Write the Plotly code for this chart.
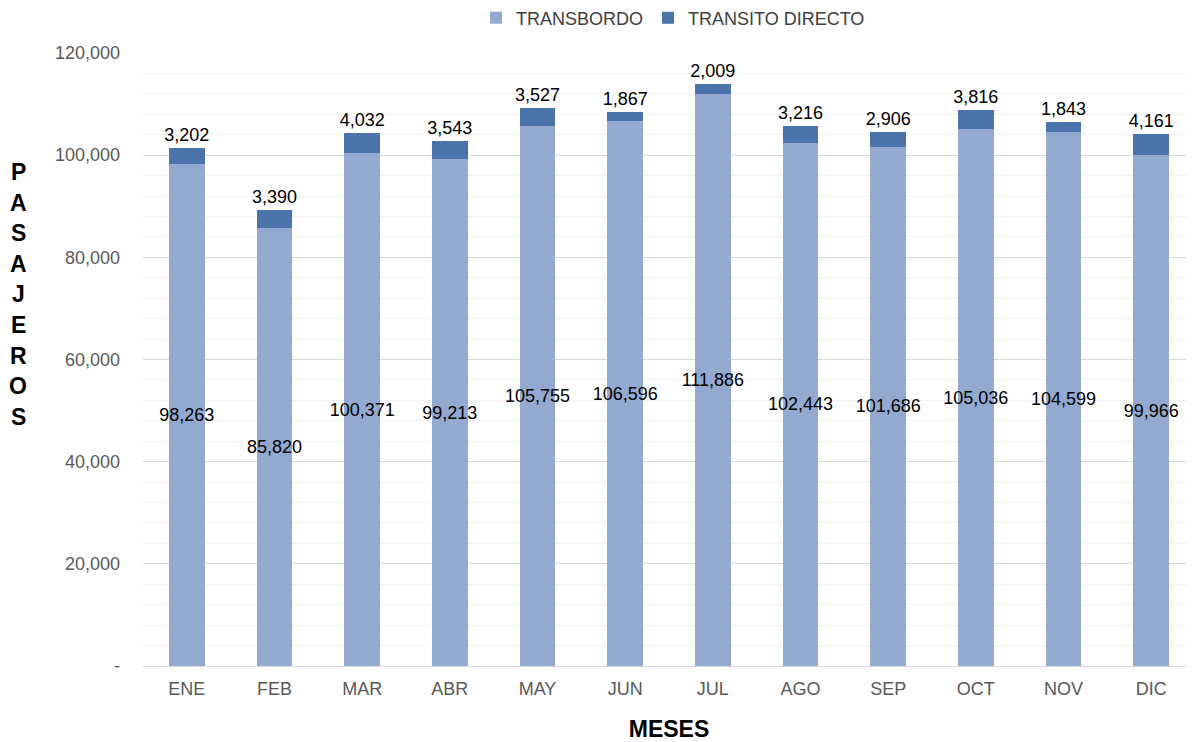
import plotly.graph_objects as go

months = ["ENE", "FEB", "MAR", "ABR", "MAY", "JUN", "JUL", "AGO", "SEP", "OCT", "NOV", "DIC"]
transbordo = [98263, 85820, 100371, 99213, 105755, 106596, 111886, 102443, 101686, 105036, 104599, 99966]
transito_directo = [3202, 3390, 4032, 3543, 3527, 1867, 2009, 3216, 2906, 3816, 1843, 4161]
y_tickvals = [0, 20000, 40000, 60000, 80000, 100000, 120000]
y_ticktext = ["-", "20,000", "40,000", "60,000", "80,000", "100,000", "120,000"]
y_title = "PASAJEROS"
x_title = "MESES"

FONT = "Liberation Sans, Arial, sans-serif"
OFF = 8  # page body margin
W, H = 1195 - OFF, 742 - OFF
L, R, T, B = 143 - OFF, 0, 53 - OFF, 76
plot_h = H - T - B
plot_w = W - L - R

fig = go.Figure()
fig.add_trace(go.Bar(
    x=months, y=transbordo, name="TRANSBORDO",
    marker=dict(color="#93A9D0", line=dict(width=0)),
    text=[f"{v:,}" for v in transbordo], textposition="inside",
    insidetextanchor="middle", textangle=0, constraintext="none",
    textfont=dict(family=FONT, size=18, color="#000000"),
))
fig.add_trace(go.Bar(
    x=months, y=transito_directo, name="TRANSITO DIRECTO",
    marker=dict(color="#4A74AB", line=dict(width=0)),
    text=[f"{v:,}" for v in transito_directo], textposition="outside",
    textangle=0, constraintext="none", cliponaxis=False,
    textfont=dict(family=FONT, size=18, color="#000000"),
))

fig.update_layout(
    barmode="stack", bargap=0.59,
    width=W, height=H,
    margin=dict(l=L, r=R, t=T, b=B, autoexpand=False),
    plot_bgcolor="white", paper_bgcolor="white",
    font=dict(family=FONT, size=18, color="#595959"),
    legend=dict(orientation="h", x=(673 - OFF) / W, xref="container", xanchor="center",
                y=1 - (18 - OFF) / H, yref="container", yanchor="middle",
                font=dict(family=FONT, size=18, color="#404040"),
                itemwidth=30, traceorder="normal"),
    showlegend=True,
)

fig.update_xaxes(
    automargin=False,
    showline=True, linecolor="#D9D9D9", linewidth=1,
    ticks="", ticklabelstandoff=6,
    tickfont=dict(family=FONT, size=18, color="#595959"),
    title=dict(text=f"<b>{x_title}</b>", font=dict(family=FONT, size=23, color="#000000"), standoff=26),
)
fig.update_yaxes(
    automargin=False,
    range=[0, 120000], tickvals=y_tickvals, ticktext=y_ticktext,
    tickfont=dict(family=FONT, size=18, color="#595959"),
    showgrid=True, gridcolor="#D9D9D9", gridwidth=1,
    minor=dict(dtick=4000, showgrid=True, gridcolor="#F2F2F2", gridwidth=1),
    zeroline=False, ticks="", ticklabelstandoff=22,
)

# vertical stacked-letter y-axis title
top_px, step_px = 172 - OFF, 30.6
for i, ch in enumerate(y_title):
    ypx = top_px + i * step_px
    fig.add_annotation(
        text=f"<b>{ch}</b>", x=(18 - OFF - L) / plot_w, xref="paper", xanchor="center",
        y=1 - (ypx - T) / plot_h, yref="paper", yanchor="middle",
        showarrow=False, font=dict(family=FONT, size=23, color="#000000"),
    )

fig.write_html("out.html")
